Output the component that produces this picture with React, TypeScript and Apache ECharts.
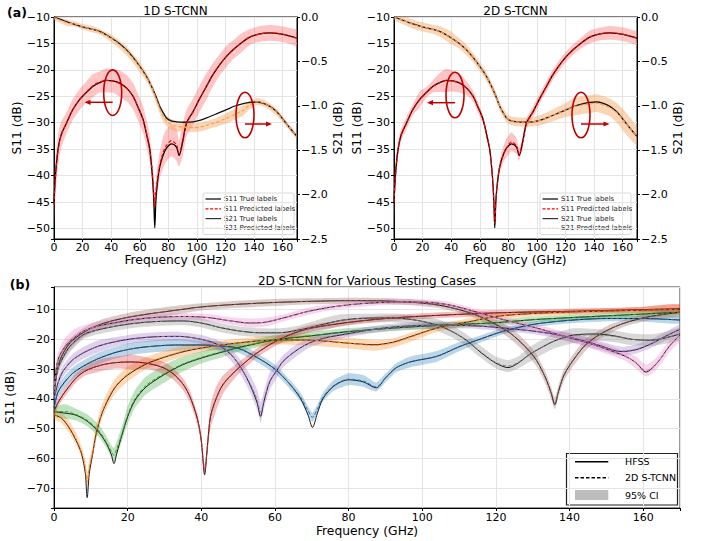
import { useEffect, useRef } from "react";
import * as echarts from "echarts";

type Row = number[];

const FONT = "'DejaVu Sans', 'Liberation Sans', sans-serif";

// Reference device: [GHz, true S11, predicted 1D, CI 1D, predicted 2D, CI 2D]
const s11Rows: Row[] = [
  [0, -45, -45.5, 4.5, -45, 4],
  [1, -40, -40.5, 3.5, -40, 2.5],
  [2.8, -35.1, -35.3, 3, -35.1, 1.5],
  [5, -32.3, -32.3, 2.5, -32.3, 1.2],
  [8.7, -30.1, -30.1, 2, -30.1, 1.2],
  [13, -27.6, -27.6, 2, -27.6, 1.0],
  [18, -25.6, -25.6, 2, -25.6, 1.5],
  [23, -24.2, -24.1, 2, -24.2, 1.0],
  [27.3, -23.1, -23, 2.2, -23.1, 1.2],
  [32, -22.4, -22.3, 2, -22.4, 1.8],
  [36.7, -22, -22, 2.3, -22, 2.2],
  [41, -22.1, -22.1, 2.2, -22.1, 2.0],
  [46, -22.5, -22.6, 2.5, -22.5, 1.8],
  [51, -23.5, -23.5, 2.5, -23.5, 1.3],
  [55.3, -25, -25, 2.5, -25, 1.0],
  [59, -27.2, -27.2, 2.5, -27.2, 1.0],
  [62.3, -29.4, -29.4, 2.5, -29.4, 0.8],
  [65, -32.5, -32.3, 2.5, -32.5, 0.8],
  [67, -35.1, -35, 2.5, -35.1, 0.8],
  [68.8, -40, -39.5, 2.5, -40, 0.8],
  [69.8, -44.6, -43.5, 2.5, -44.6, 0.8],
  [70.5, -49.9, -46, 2.5, -49, 0.8],
  [71.3, -44.6, -43, 2.5, -44.6, 0.8],
  [72.5, -41, -40.5, 2.5, -41, 1],
  [74, -38.3, -38, 2.5, -38.3, 1.2],
  [76.5, -36, -35.5, 3, -36, 1.5],
  [78.7, -34.8, -34.3, 3, -34.8, 1.8],
  [82.2, -34, -33.4, 3, -33.6, 1.8],
  [85.7, -34.6, -34.2, 3, -34.4, 1.5],
  [87.5, -36.2, -35.8, 2.5, -36, 1.2],
  [89.9, -33.8, -33.5, 3, -33.8, 1.2],
  [92.7, -30.1, -30.1, 2.5, -30.1, 1.0],
  [97.3, -27.9, -27.9, 2.5, -27.9, 1.0],
  [102, -25.4, -25.4, 2.5, -25.4, 1.0],
  [106.7, -23.1, -23.1, 2.5, -23.1, 1.0],
  [111, -21, -21, 2.2, -21, 1.0],
  [116, -19, -19, 2, -19, 1.0],
  [120.5, -17.5, -17.5, 2, -17.5, 1.0],
  [125.3, -16.2, -16.2, 1.8, -16.2, 1.0],
  [131, -14.9, -14.9, 1.8, -14.9, 1.0],
  [137, -13.8, -13.8, 1.5, -13.8, 1.2],
  [144, -13.2, -13.2, 1.5, -13.2, 1.2],
  [151, -13, -13, 1.5, -13, 1.3],
  [156, -13.1, -13.1, 1.5, -13.1, 1.3],
  [160.4, -13.3, -13.3, 1.5, -13.3, 1.3],
  [165, -13.6, -13.6, 1.5, -13.6, 1.3],
  [170, -14, -14, 1.5, -14, 1.2],
];

// Reference device: [GHz, true S21, predicted 1D, CI 1D, predicted 2D, CI 2D]
const s21Rows: Row[] = [
  [0, 0, -0.005, 0.03, 0, 0.03],
  [5, -0.03, -0.04, 0.03, -0.03, 0.04],
  [10, -0.06, -0.07, 0.035, -0.06, 0.05],
  [15, -0.085, -0.08, 0.03, -0.09, 0.05],
  [20, -0.11, -0.11, 0.03, -0.11, 0.05],
  [27.3, -0.14, -0.14, 0.035, -0.14, 0.05],
  [33, -0.17, -0.175, 0.03, -0.17, 0.06],
  [39, -0.225, -0.23, 0.04, -0.225, 0.07],
  [45, -0.29, -0.3, 0.045, -0.29, 0.06],
  [50.7, -0.37, -0.38, 0.05, -0.37, 0.06],
  [55, -0.45, -0.46, 0.05, -0.45, 0.05],
  [60, -0.556, -0.56, 0.06, -0.556, 0.05],
  [64, -0.65, -0.66, 0.05, -0.65, 0.05],
  [67, -0.74, -0.74, 0.05, -0.74, 0.05],
  [71, -0.88, -0.9, 0.05, -0.88, 0.05],
  [74, -1.007, -1.03, 0.06, -1.007, 0.05],
  [76.5, -1.08, -1.12, 0.06, -1.08, 0.05],
  [78.7, -1.137, -1.17, 0.06, -1.137, 0.05],
  [82, -1.17, -1.21, 0.06, -1.17, 0.05],
  [85.7, -1.18, -1.23, 0.06, -1.18, 0.05],
  [91, -1.185, -1.24, 0.05, -1.185, 0.05],
  [97.3, -1.18, -1.245, 0.05, -1.18, 0.05],
  [102, -1.165, -1.24, 0.05, -1.165, 0.06],
  [106.7, -1.137, -1.22, 0.05, -1.137, 0.06],
  [113, -1.095, -1.19, 0.05, -1.095, 0.07],
  [120.7, -1.044, -1.14, 0.06, -1.044, 0.08],
  [126, -1.005, -1.1, 0.06, -1.01, 0.1],
  [132.4, -0.976, -1.05, 0.06, -0.99, 0.1],
  [137, -0.962, -0.99, 0.05, -0.98, 0.1],
  [141.7, -0.957, -0.955, 0.04, -0.97, 0.1],
  [146, -0.97, -0.965, 0.04, -0.99, 0.1],
  [151, -1.007, -1.01, 0.04, -1.02, 0.1],
  [156, -1.07, -1.075, 0.04, -1.08, 0.11],
  [160.4, -1.157, -1.16, 0.035, -1.16, 0.12],
  [165, -1.25, -1.25, 0.035, -1.25, 0.12],
  [170, -1.345, -1.345, 0.03, -1.345, 0.1],
];

// Testing cases: [GHz, HFSS, 2D S-TCNN, 95% CI half-width]
const caseBlue: Row[] = [
  [0, -43, -43, 2], [1, -38, -38, 2], [2.5, -35, -35, 2], [5, -31.5, -31.5, 2],
  [8, -29, -29, 2], [12, -26.5, -26.5, 2], [17, -24.3, -24.3, 2], [22, -23, -23, 2],
  [27, -22.3, -22.3, 2], [33, -21.9, -21.9, 2], [40, -21.9, -21.9, 1.5], [45, -22.2, -22.2, 1.5],
  [50, -23, -23, 1.5], [55, -26, -26, 1.5], [60, -30, -30, 1.5], [64, -35, -35, 1.5],
  [67, -40, -39.5, 1.5], [69, -45.5, -44, 1.5], [70.2, -49.6, -46.2, 1.5], [71.5, -45, -43.5, 1.5],
  [73, -40, -39.5, 1.5], [76, -35.7, -35.5, 1.8], [80, -33.6, -33.4, 2], [84, -34.3, -34, 2],
  [87.5, -36.3, -36, 1.5], [90, -33, -33, 1.5], [93, -29.5, -29.5, 1.5], [97, -27.5, -27.5, 1.8],
  [104, -25.7, -25.7, 1.8], [110, -22.5, -22.5, 1.5], [116, -19.8, -19.8, 1.2], [122, -17.3, -17.3, 1],
  [130, -15, -15, 1], [140, -13.6, -13.6, 1], [150, -13, -13, 1], [160, -13, -13, 1], [170, -13.5, -13.5, 1.2],
];

const caseOrange: Row[] = [
  [0, -45.3, -45.3, 1.5], [2, -46.5, -46.3, 1.8], [4, -49.5, -49.2, 2], [6, -54, -53.5, 2],
  [7.5, -58.5, -58, 2], [8.5, -65, -63, 2.5], [9, -73.2, -68, 3], [9.6, -65, -63, 2.5],
  [10.5, -58.5, -58, 2.5], [11.5, -51.5, -51, 2.5], [13, -45, -44.5, 2.5], [15, -39.5, -39, 2.5],
  [17, -35.5, -35.2, 2.5], [20, -32, -31.7, 2.5], [25, -28.3, -28, 2], [30, -26, -25.8, 2],
  [35, -24.2, -24, 1.8], [40, -22.9, -22.8, 1.5], [45, -22, -22, 1.5], [50, -21.2, -21.2, 1.5],
  [60, -20.2, -20.2, 1.5], [70, -20.3, -20.3, 1.8], [80, -21.3, -21.3, 1.8], [87, -21.8, -22, 1.8],
  [92, -21, -21.2, 1.5], [97, -19, -19.2, 1.5], [104, -16.2, -16.3, 1.2], [113, -14, -14, 1.2],
  [120, -12.3, -12.3, 1], [130, -11.3, -11.3, 1], [140, -10.8, -10.8, 1], [150, -10.5, -10.5, 1],
  [160, -10.2, -10.2, 1.2], [170, -9.9, -9.9, 1.5],
];

const caseGreen: Row[] = [
  [0, -44.3, -44.3, 1.5], [3, -44.8, -44.3, 2.5], [6, -45.5, -45.3, 2], [9, -47.5, -47.2, 2],
  [12, -51, -50.5, 2], [14, -54.5, -54, 2], [15.5, -58.5, -57.5, 2], [16.3, -61.8, -59, 2.5],
  [17, -58.5, -57, 2.5], [18.5, -52, -51.5, 2.5], [20, -46, -45.5, 3], [22, -40.5, -40, 3],
  [25, -36, -35.5, 3], [30, -31.8, -31.5, 3], [35, -28.5, -28.3, 2.5], [40, -26.3, -26.1, 2],
  [45, -24.5, -24.3, 2], [50, -22.8, -22.7, 1.5], [60, -20.2, -20.1, 1.5], [70, -18.8, -18.7, 1.2],
  [80, -17.4, -17.4, 1.2], [90, -16.4, -16.4, 1], [100, -15.6, -15.6, 1], [110, -15, -15, 1],
  [120, -14.4, -14.4, 1], [130, -13.4, -13.4, 1], [140, -12.7, -12.7, 1], [150, -12.1, -12.1, 1],
  [160, -11.5, -11.5, 1], [170, -10.9, -10.9, 1],
];

const caseRed: Row[] = [
  [0, -44.3, -44.3, 1.5], [1, -41.5, -41.5, 1.5], [2.5, -38.5, -38.5, 1.5], [4, -36, -36, 1.5],
  [6, -33, -33, 1.5], [8, -31, -31, 1.5], [10, -29.8, -29.8, 1.8], [13, -28.6, -28.6, 2],
  [17, -27.8, -27.8, 2], [21, -27.6, -27.6, 2.5], [25, -28, -28, 2], [29, -29.2, -29.2, 2],
  [32, -31.2, -31.2, 2], [35, -35, -35, 2], [37, -39.5, -39.5, 2], [39, -47, -47, 2],
  [40, -54, -54, 2], [40.9, -65.5, -64, 2], [41.8, -54, -54, 3], [42.5, -46, -46, 4],
  [44, -40, -40, 4], [46, -35, -35, 3], [50, -29.8, -29.8, 2], [55, -24.7, -24.7, 1.5],
  [60, -20.8, -20.8, 1.5], [65, -18, -18, 1.2], [70, -16.2, -16.2, 1.2], [80, -14.3, -14.3, 1],
  [90, -13, -13, 1], [100, -12.2, -12.2, 1], [110, -11.6, -11.6, 1], [120, -11.1, -11.1, 1],
  [130, -10.8, -10.8, 0.8], [140, -10.6, -10.6, 0.8], [150, -10.3, -10.3, 0.8], [160, -10, -10, 1],
  [170, -9.7, -9.7, 1.5],
];

const casePurple: Row[] = [
  [0, -40, -40, 2], [1, -35, -35, 2], [2.4, -30.8, -30.8, 2], [5, -27, -27, 2],
  [7.9, -24.6, -24.6, 2], [12, -22.3, -22.3, 2], [17, -20.7, -20.7, 1.5], [22, -19.7, -19.7, 1.5],
  [28, -19.1, -19.1, 1.5], [34, -19, -19, 1.5], [40, -20, -20, 1.5], [44, -21.5, -21.5, 1.5],
  [48, -25, -25, 2], [51, -30, -30, 2.5], [53.5, -36, -35.5, 3], [55.2, -41.5, -40.5, 3.5],
  [56.1, -45.9, -44.5, 3.5], [57, -41, -40.5, 3], [58.6, -34.2, -34, 3], [60.5, -30.5, -30.5, 2.5],
  [62.2, -27.4, -27.4, 2], [65.5, -24, -24, 2], [69.4, -21.2, -21.2, 1.5], [74, -19.4, -19.4, 1.5],
  [78.5, -18.4, -18.4, 1.2], [87, -16.6, -16.6, 1.2], [95, -15.6, -15.6, 1.2], [105, -15.2, -15.2, 1.2],
  [115, -15.5, -15.5, 1], [123, -16.3, -16.3, 1], [130, -17.2, -17.2, 1], [136, -18.3, -18.3, 1.2],
  [142, -19.9, -19.9, 1.5], [148, -22, -22, 1.5], [154, -24.1, -24, 1.5], [158, -23.5, -23.3, 1.5],
  [162, -21.6, -21.5, 1.5], [166, -19, -19, 1.5], [170, -16.6, -16.6, 1.5],
];

const caseBrown: Row[] = [
  [0, -38.5, -38.5, 2], [0.7, -32, -32, 2], [1.5, -27.5, -27.5, 2], [3, -23.5, -23.5, 2],
  [4.5, -21, -21, 1.5], [7, -18.5, -18.5, 1.5], [10, -16.3, -16.3, 1.5], [14, -14.4, -14.4, 1.5],
  [20, -12.6, -12.6, 1.5], [26, -11.4, -11.4, 1.5], [32, -10.4, -10.4, 1.5], [40, -9.1, -9.1, 1.2],
  [50, -8.2, -8.2, 1.2], [60, -7.6, -7.6, 1.2], [70, -7.2, -7.2, 1], [80, -7, -7, 1],
  [90, -7.1, -7.1, 1], [98, -7.6, -7.6, 1], [104, -8.4, -8.4, 1], [110, -10, -10, 1],
  [115, -12, -12, 1.2], [120, -15, -15, 1.5], [124, -18, -18, 2], [128, -22.5, -22.5, 2],
  [131, -27, -27, 2], [133.5, -33, -33, 2], [135, -38, -38, 2], [136, -42, -41.5, 2],
  [137, -37.5, -37.5, 2], [138.5, -32, -32, 2], [141, -27, -27, 2], [144, -22.3, -22.3, 2],
  [147, -19.3, -19.3, 1.5], [151, -16.5, -16.5, 1.5], [155, -14.5, -14.5, 1.2], [160, -12.8, -12.8, 1.2],
  [165, -11.7, -11.7, 1.2], [170, -10.9, -10.9, 1.5],
];

const casePink: Row[] = [
  [0, -37, -37, 2], [0.7, -29, -29, 2.5], [1.5, -25.5, -25.5, 2.5], [3, -22.5, -22.5, 3],
  [5, -20, -20, 3], [8, -17.3, -17.3, 2], [12, -15.5, -15.5, 1.5], [17, -14.3, -14.3, 1.2],
  [22, -13.3, -13.3, 1.2], [28, -12.6, -12.6, 1.2], [35, -12.3, -12.3, 1.2], [42, -12.7, -12.7, 1.2],
  [48, -13.8, -13.8, 1.2], [53, -14.5, -14.5, 1.5], [57, -14.3, -14.3, 1.5], [62, -12.9, -12.9, 1.2],
  [68, -10.9, -10.9, 1.2], [74, -9.4, -9.4, 1], [80, -8.4, -8.4, 1], [87, -7.7, -7.7, 1],
  [95, -7.4, -7.4, 1], [103, -7.7, -7.7, 1], [108, -8.6, -8.6, 1], [113, -10.2, -10.2, 1],
  [120, -12.7, -12.7, 1], [126, -14.6, -14.6, 1.2], [132, -16.5, -16.5, 1.2], [138, -18.8, -18.8, 1.5],
  [145, -21.2, -21.2, 1.5], [150, -23.3, -23.3, 1.5], [155, -25.6, -25.6, 1.5], [158, -27.8, -27.8, 2],
  [160.8, -31, -30.5, 2], [163, -29, -28.8, 2], [165, -26, -26, 2], [167, -22.5, -22.5, 2],
  [170, -18.5, -18.5, 2],
];

const caseGray: Row[] = [
  [0, -37, -37, 2], [1, -30, -30, 2], [2.5, -26, -26, 2], [4.3, -22.4, -22.4, 2],
  [8, -18.4, -18.4, 1.5], [12, -16.8, -16.8, 1.5], [17, -15.5, -15.5, 1.5], [22, -14.6, -14.6, 1.5],
  [28, -14, -14, 1.5], [35, -13.8, -13.8, 1.5], [40, -14.5, -14.5, 1.5], [45, -16, -16, 1.5],
  [51, -17.3, -17.3, 1.5], [56, -17.8, -17.8, 1.5], [61, -17.8, -17.8, 1.5], [66, -17, -17, 1.5],
  [72, -15.3, -15.3, 2], [78, -13.6, -13.6, 2], [84, -12.9, -12.9, 1.5], [92, -12.8, -12.8, 1.5],
  [98, -13.5, -13.5, 1.5], [104, -15.2, -15.2, 2], [108, -17.3, -17.3, 2], [112, -20.3, -20.3, 2],
  [116, -24.5, -24.3, 2], [120, -28, -27.8, 2], [123.3, -29.5, -29, 2], [126, -28, -27.8, 2],
  [129, -25.2, -25.2, 2.5], [132, -23, -23, 2.5], [136, -20.5, -20.5, 2.5], [141, -18.6, -18.8, 2.5],
  [147, -18.2, -18.5, 2], [152, -18.8, -19, 2], [157, -20, -20, 2], [162, -20.3, -20.3, 2],
  [166, -19.5, -19.5, 2], [170, -18.2, -18.2, 2],
];

const testCases: { rows: Row[]; color: string }[] = [
  { rows: caseBlue, color: "#1f77b4" },
  { rows: caseOrange, color: "#ff7f0e" },
  { rows: caseGreen, color: "#2ca02c" },
  { rows: caseRed, color: "#d62728" },
  { rows: casePurple, color: "#9467bd" },
  { rows: caseBrown, color: "#8c564b" },
  { rows: casePink, color: "#e377c2" },
  { rows: caseGray, color: "#7f7f7f" },
];

const topLegendLabels = ["S11 True labels", "S11 Predicted labels", "S21 True labels", "S21 Predicted labels"];
const bottomLegendLabels = ["HFSS", "2D S-TCNN", "95% CI"];

const S11_PRED = "#ff0000";
const S21_PRED = "#f5a05a";
const S11_BAND = "#ff4040";
const S21_BAND = "#f4a460";
const ANNOT = "#c00000";

const TICK_FS = 11;
const NAME_FS = 12.3;

const withMinus = (s: string) => s.replace("-", "\u2212");
const stepLabel = (step: number, digits: number) => (v: number) => {
  const k = v / step;
  if (Math.abs(k - Math.round(k)) > 1e-6) return "";
  return withMinus(v.toFixed(digits));
};

const lineSeries = (
  rows: Row[], col: number, xAxisIndex: number, yAxisIndex: number,
  color: string, width: number, dashed: boolean, z: number,
) => ({
  type: "line",
  xAxisIndex,
  yAxisIndex,
  data: rows.map((r) => [r[0], r[col]]),
  symbol: "none",
  smooth: 0.3,
  clip: true,
  silent: true,
  z,
  lineStyle: { color, width, type: dashed ? [3.5, 2] : "solid" },
});

const bandSeries = (
  rows: Row[], col: number, ciCol: number, xAxisIndex: number, yAxisIndex: number,
  fill: string, opacity: number,
) => ({
  type: "custom",
  xAxisIndex,
  yAxisIndex,
  silent: true,
  clip: true,
  z: 1,
  data: [[rows[0][0], rows[0][col]]],
  renderItem: (_p: any, api: any) => {
    const upper = rows.map((r) => api.coord([r[0], r[col] + r[ciCol]]));
    const lower = rows.map((r) => api.coord([r[0], r[col] - r[ciCol]])).reverse();
    return {
      type: "polygon",
      shape: { points: upper.concat(lower), smooth: 0.2 },
      style: { fill, opacity },
    };
  },
});

const xAxisCfg = (gridIndex: number, nameGap: number, margin: number) => ({
  type: "value",
  gridIndex,
  min: 0,
  max: 170,
  interval: 20,
  name: "Frequency (GHz)",
  nameLocation: "middle",
  nameGap,
  nameTextStyle: { color: "#000", fontSize: NAME_FS, fontFamily: FONT },
  axisLine: { show: true, onZero: false, lineStyle: { color: "#000", width: 1 } },
  axisTick: { show: true, length: 3, lineStyle: { color: "#000" } },
  axisLabel: { color: "#000", fontSize: TICK_FS, fontFamily: FONT, margin, formatter: stepLabel(20, 0) },
  splitLine: { show: true, lineStyle: { color: "#e4e4e4", width: 1 } },
});

const yAxisCfg = (
  gridIndex: number, position: "left" | "right", name: string, min: number, max: number,
  extra: Record<string, unknown>, formatter: (v: number) => string, split: boolean, nameGap: number,
) => ({
  type: "value",
  gridIndex,
  position,
  min,
  max,
  ...extra,
  name,
  nameLocation: "middle",
  nameRotate: 90,
  nameGap,
  nameTextStyle: { color: "#000", fontSize: NAME_FS, fontFamily: FONT },
  axisLine: { show: true, onZero: false, lineStyle: { color: "#000", width: 1 } },
  axisTick: { show: true, length: 3, lineStyle: { color: "#000" } },
  axisLabel: { color: "#000", fontSize: TICK_FS, fontFamily: FONT, margin: 4, formatter },
  splitLine: { show: split, lineStyle: { color: "#e4e4e4", width: 1 } },
});

const topLegend = (x0: number, y0: number) => {
  const rowY = [6, 15.8, 25.6, 35.4];
  const strokes = ["#000", S11_PRED, "#333", S21_PRED];
  const dashed = [false, true, false, true];
  const children: any[] = [
    {
      type: "rect",
      shape: { x: x0, y: y0, width: 91, height: 41.5, r: 2 },
      style: { fill: "rgba(255,255,255,0.85)", stroke: "#d0d0d0", lineWidth: 0.8 },
    },
  ];
  topLegendLabels.forEach((label, i) => {
    children.push({
      type: "line",
      shape: { x1: x0 + 2.5, y1: y0 + rowY[i], x2: x0 + 18, y2: y0 + rowY[i] },
      style: { stroke: strokes[i], lineWidth: 1.2, lineDash: dashed[i] ? [3, 1.6] : null },
    });
    children.push({
      type: "text",
      style: {
        x: x0 + 21, y: y0 + rowY[i], text: label, fill: "#222",
        font: `7px ${FONT}`, textAlign: "left", textVerticalAlign: "middle",
      },
    });
  });
  return { type: "group", z: 50, children };
};

const ellipse = (cx: number, cy: number) => ({
  type: "ellipse",
  z: 60,
  shape: { cx, cy, rx: 9, ry: 22.8 },
  style: { fill: "none", stroke: ANNOT, lineWidth: 1.6 },
});

const arrow = (x1: number, x2: number, y: number) => {
  const dir = x2 > x1 ? 1 : -1;
  return [
    {
      type: "line",
      z: 60,
      shape: { x1, y1: y, x2: x2 - dir * 4, y2: y },
      style: { stroke: ANNOT, lineWidth: 1.5 },
    },
    {
      type: "polygon",
      z: 60,
      shape: { points: [[x2, y], [x2 - dir * 6, y - 2.6], [x2 - dir * 6, y + 2.6]] },
      style: { fill: ANNOT },
    },
  ];
};

const textEl = (x: number, y: number, text: string, font: string, align = "center") => ({
  type: "text",
  z: 70,
  style: { x, y, text, fill: "#000", font, textAlign: align, textVerticalAlign: "middle" },
});

function buildOption() {
  const series: any[] = [];

  // Panel (a): 1D on grid 0 (axes y0/y1), 2D on grid 1 (axes y2/y3)
  const panels = [
    { xi: 0, yl: 0, yr: 1, pred: 2, ci: 3 },
    { xi: 1, yl: 2, yr: 3, pred: 4, ci: 5 },
  ];
  panels.forEach((p) => {
    series.push(bandSeries(s11Rows, p.pred, p.ci, p.xi, p.yl, S11_BAND, 0.3));
    series.push(bandSeries(s21Rows, p.pred, p.ci, p.xi, p.yr, S21_BAND, 0.45));
    series.push(lineSeries(s11Rows, 1, p.xi, p.yl, "#000", 1.3, false, 2));
    series.push(lineSeries(s11Rows, p.pred, p.xi, p.yl, S11_PRED, 1.2, true, 3));
    series.push(lineSeries(s21Rows, 1, p.xi, p.yr, "#111", 1.3, false, 2));
    series.push(lineSeries(s21Rows, p.pred, p.xi, p.yr, S21_PRED, 1.2, true, 3));
  });

  // Panel (b): testing cases on grid 2 (axis y4)
  testCases.forEach((c) => {
    series.push(bandSeries(c.rows, 2, 3, 2, 4, c.color, 0.3));
  });
  testCases.forEach((c) => {
    series.push(lineSeries(c.rows, 1, 2, 4, "#1a1a1a", 1, false, 2));
    series.push(lineSeries(c.rows, 2, 2, 4, c.color, 1, true, 3));
  });

  const gridBase = { show: true, borderColor: "#000", borderWidth: 1, backgroundColor: "transparent", containLabel: false, outerBoundsMode: "none" };

  return {
    animation: false,
    backgroundColor: "#fff",
    grid: [
      { ...gridBase, left: 54, top: 17, width: 243, height: 222 },
      { ...gridBase, left: 394, top: 17, width: 243, height: 222 },
      { ...gridBase, left: 54, top: 287, width: 626, height: 221, borderColor: "#333" },
    ],
    xAxis: [xAxisCfg(0, 14, 3), xAxisCfg(1, 14, 3), xAxisCfg(2, 17, 4)],
    yAxis: [
      yAxisCfg(0, "left", "S11 (dB)", -52, -10, { splitNumber: 8 }, stepLabel(5, 0), true, 30),
      yAxisCfg(0, "right", "S21 (dB)", -2.5, 0, { interval: 0.5 }, stepLabel(0.5, 1), false, 33),
      yAxisCfg(1, "left", "S11 (dB)", -52, -10, { splitNumber: 8 }, stepLabel(5, 0), true, 30),
      yAxisCfg(1, "right", "S21 (dB)", -2.5, 0, { interval: 0.5 }, stepLabel(0.5, 1), false, 31),
      yAxisCfg(2, "left", "S11 (dB)", -76.7, -2.4, { splitNumber: 7 }, stepLabel(10, 0), true, 30),
    ],
    series,
    graphic: [
      textEl(17, 12, "(a)", `bold 12.5px ${FONT}`),
      textEl(20, 284, "(b)", `bold 12.5px ${FONT}`),
      textEl(175.5, 10.5, "1D S-TCNN", `12px ${FONT}`),
      textEl(515.5, 10.5, "2D S-TCNN", `12px ${FONT}`),
      textEl(367, 281, "2D S-TCNN for Various Testing Cases", `12px ${FONT}`),
      topLegend(203, 193),
      topLegend(540, 193),
      ellipse(112.7, 92.7),
      ...arrow(112.7, 84.5, 102.3),
      ellipse(245, 115),
      ...arrow(245, 272, 124),
      ellipse(455, 95),
      ...arrow(455, 427, 102.7),
      ellipse(581, 115),
      ...arrow(581, 609.5, 124),
      {
        type: "group",
        z: 50,
        children: [
          {
            type: "rect",
            shape: { x: 566.5, y: 453.5, width: 111, height: 51.5 },
            style: { fill: "#fff", stroke: "#222", lineWidth: 1.2 },
          },
          {
            type: "line",
            shape: { x1: 575, y1: 461.7, x2: 608.3, y2: 461.7 },
            style: { stroke: "#000", lineWidth: 1.5 },
          },
          {
            type: "line",
            shape: { x1: 575, y1: 477.7, x2: 608.3, y2: 477.7 },
            style: { stroke: "#000", lineWidth: 1.5, lineDash: [3.5, 2] },
          },
          {
            type: "rect",
            shape: { x: 575, y: 490, width: 33.3, height: 10 },
            style: { fill: "#bdbdbd" },
          },
          textEl(625, 461.7, bottomLegendLabels[0], `9.5px ${FONT}`, "left"),
          textEl(625, 477.7, bottomLegendLabels[1], `9.5px ${FONT}`, "left"),
          textEl(625, 495, bottomLegendLabels[2], `9.5px ${FONT}`, "left"),
        ],
      },
    ],
  };
}

export default function App() {
  const ref = useRef<HTMLDivElement>(null);
  useEffect(() => {
    if (!ref.current) return;
    const chart = echarts.init(ref.current, null, { renderer: "svg" });
    chart.setOption(buildOption() as any);
    return () => chart.dispose();
  }, []);
  return (
    <div
      ref={ref}
      style={{ position: "fixed", left: 0, top: 0, width: 702, height: 541, background: "#fff" }}
    />
  );
}
